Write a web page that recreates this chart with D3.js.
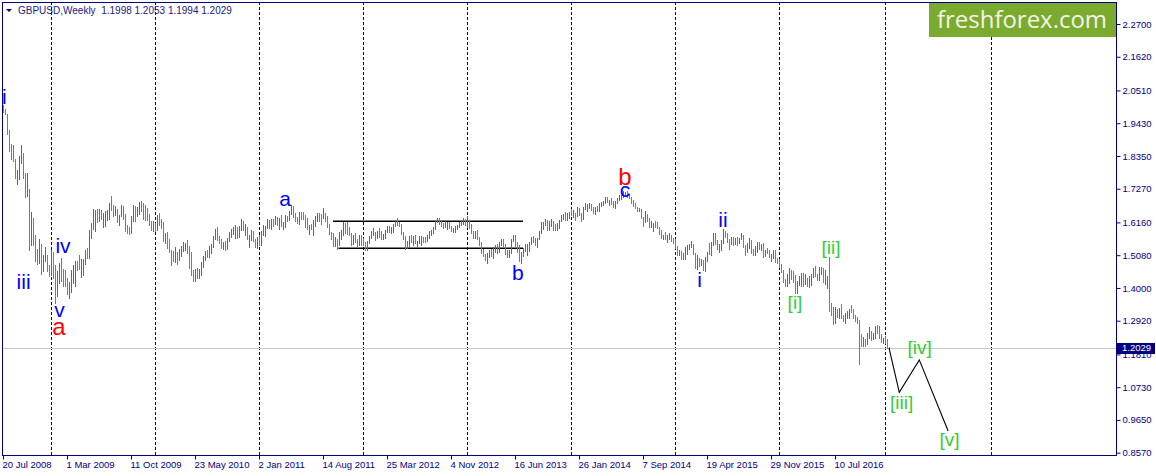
<!DOCTYPE html>
<html>
<head>
<meta charset="utf-8">
<script src="https://cdn.jsdelivr.net/npm/d3@7"></script>
<style>
body { margin: 0; background: #fff; }
svg text { font-family: Tahoma, "Liberation Sans", sans-serif; }
</style>
</head>
<body>
<script>
// weekly GBPUSD bars, first bar = week of 20 Jul 2008
var firstWeek = "2008-07-20";
var firstOpen = 1.995;

var highs = [
  2.003,1.990,1.974,1.922,1.876,1.870,1.825,1.790,1.836,1.870,1.844,1.780,1.780,1.725,1.650,1.630,1.574,1.530,1.560,1.545,1.510,1.535,1.510,1.475,
  1.524,1.519,1.477,1.456,1.483,1.500,1.462,1.460,1.432,1.420,1.460,1.475,1.490,1.488,1.510,1.495,1.495,1.525,1.533,1.591,1.615,1.660,1.658,1.661,1.660,1.658,1.647,1.655,1.656,1.680,1.704,1.672,1.671,1.661,1.640,1.672,1.669,1.644,1.606,1.600,1.636,1.672,1.670,1.667,1.684,1.688,1.681,1.675,1.664,1.645,1.620,1.620,
  1.615,1.642,1.647,1.628,1.618,1.581,1.585,1.563,1.525,1.522,1.535,1.517,1.529,1.537,1.551,1.547,1.559,1.537,1.520,1.460,1.462,1.467,1.464,1.486,1.506,1.523,1.525,1.537,1.546,1.571,1.595,1.600,1.571,1.562,1.553,1.555,1.566,1.584,1.595,1.601,1.607,1.602,1.605,1.628,1.622,1.610,1.602,1.575,1.590,1.587,1.563,1.567,
  1.574,1.588,1.606,1.603,1.626,1.625,1.628,1.628,1.637,1.634,1.629,1.641,1.617,1.640,1.637,1.655,1.675,1.670,1.647,1.634,1.650,1.650,1.650,1.640,1.630,1.609,1.611,1.625,1.636,1.646,1.648,1.643,1.662,1.648,1.637,1.611,1.585,1.581,1.567,1.560,1.584,1.590,1.616,1.613,1.617,1.602,1.582,1.576,1.580,1.563,1.574,1.575,
  1.566,1.550,1.556,1.570,1.588,1.597,1.586,1.587,1.596,1.589,1.579,1.592,1.605,1.604,1.600,1.611,1.625,1.630,1.619,1.612,1.584,1.572,1.554,1.572,1.573,1.571,1.573,1.555,1.572,1.572,1.568,1.569,1.573,1.588,1.590,1.600,1.623,1.631,1.631,1.624,1.615,1.625,1.616,1.617,1.604,1.596,1.603,1.609,1.617,1.620,1.631,1.627,
  1.638,1.625,1.611,1.589,1.588,1.591,1.568,1.553,1.528,1.513,1.515,1.525,1.528,1.535,1.541,1.544,1.552,1.560,1.561,1.544,1.525,1.526,1.563,1.575,1.575,1.550,1.542,1.520,1.533,1.545,1.544,1.553,1.567,1.572,1.565,1.566,1.588,1.616,1.617,1.626,1.623,1.621,1.626,1.620,1.612,1.614,1.625,1.642,1.644,1.650,1.648,1.651,1.660,
  1.656,1.647,1.667,1.662,1.647,1.667,1.681,1.677,1.680,1.678,1.667,1.667,1.671,1.679,1.684,1.685,1.700,1.700,1.691,1.697,1.687,1.686,1.697,1.706,1.707,1.718,1.716,1.719,1.711,1.700,1.690,1.680,1.668,1.665,1.660,1.633,1.653,1.643,1.629,1.620,1.614,1.620,1.618,1.602,1.592,1.575,1.584,1.573,1.581,1.576,1.564,1.561,
  1.537,1.526,1.522,1.515,1.534,1.541,1.545,1.555,1.546,1.515,1.508,1.499,1.495,1.492,1.501,1.519,1.549,1.552,1.582,1.582,1.557,1.545,1.559,1.593,1.588,1.580,1.562,1.567,1.568,1.566,1.568,1.564,1.582,1.574,1.542,1.547,1.566,1.559,1.530,1.537,1.550,1.552,1.546,1.549,1.526,1.533,1.525,1.512,1.526,1.524,1.498,1.494,
  1.479,1.459,1.430,1.446,1.466,1.460,1.456,1.443,1.422,1.439,1.448,1.450,1.446,1.434,1.438,1.445,1.467,1.471,1.446,1.468,1.470,1.465,1.459,1.440,1.502,1.350,1.336,1.337,1.330,1.334,1.348,1.312,1.317,1.323,1.330,1.344,1.331,1.311,1.304,1.294,1.247,1.239,1.233,1.250,1.271,1.259,1.252,1.276,1.278,1.273,1.248,1.236,
  1.243,1.233,1.2053
];
var lows = [
  1.979,1.973,1.909,1.850,1.826,1.818,1.762,1.744,1.760,1.812,1.763,1.700,1.702,1.525,1.540,1.540,1.490,1.478,1.482,1.447,1.457,1.490,1.457,1.439,
  1.443,1.433,1.350,1.373,1.415,1.422,1.405,1.406,1.380,1.366,1.387,1.415,1.405,1.460,1.463,1.437,1.444,1.480,1.500,1.500,1.564,1.594,1.588,1.618,1.620,1.626,1.600,1.605,1.624,1.627,1.656,1.638,1.640,1.617,1.606,1.636,1.626,1.588,1.581,1.577,1.580,1.622,1.621,1.636,1.643,1.652,1.627,1.623,1.624,1.609,1.590,1.587,
  1.587,1.590,1.608,1.599,1.555,1.548,1.532,1.520,1.477,1.490,1.487,1.479,1.491,1.506,1.521,1.524,1.516,1.467,1.442,1.423,1.423,1.432,1.434,1.444,1.470,1.491,1.503,1.502,1.514,1.535,1.563,1.558,1.547,1.532,1.529,1.526,1.530,1.554,1.567,1.578,1.566,1.564,1.567,1.590,1.590,1.575,1.562,1.535,1.559,1.555,1.534,1.532,
  1.543,1.543,1.575,1.570,1.598,1.596,1.595,1.603,1.612,1.607,1.593,1.605,1.594,1.600,1.620,1.624,1.645,1.635,1.622,1.615,1.610,1.627,1.627,1.602,1.595,1.578,1.593,1.575,1.604,1.622,1.622,1.610,1.630,1.622,1.602,1.577,1.561,1.537,1.537,1.527,1.542,1.561,1.575,1.582,1.577,1.575,1.542,1.544,1.550,1.539,1.542,1.540,
  1.542,1.524,1.524,1.549,1.566,1.573,1.559,1.566,1.569,1.560,1.560,1.564,1.583,1.583,1.582,1.585,1.604,1.609,1.605,1.578,1.563,1.527,1.533,1.536,1.550,1.541,1.549,1.535,1.549,1.540,1.550,1.553,1.555,1.565,1.573,1.581,1.593,1.616,1.612,1.605,1.597,1.600,1.594,1.598,1.589,1.583,1.585,1.594,1.600,1.607,1.611,1.607,
  1.601,1.596,1.581,1.565,1.566,1.561,1.543,1.516,1.504,1.491,1.483,1.503,1.506,1.500,1.518,1.516,1.518,1.542,1.537,1.511,1.501,1.503,1.516,1.555,1.534,1.518,1.490,1.481,1.506,1.522,1.508,1.522,1.546,1.550,1.540,1.534,1.561,1.582,1.594,1.608,1.590,1.592,1.605,1.590,1.590,1.590,1.598,1.621,1.628,1.624,1.625,1.629,1.640,
  1.634,1.625,1.637,1.639,1.620,1.626,1.660,1.655,1.663,1.656,1.646,1.643,1.655,1.654,1.671,1.675,1.680,1.683,1.675,1.678,1.667,1.665,1.679,1.690,1.693,1.701,1.703,1.700,1.695,1.681,1.670,1.664,1.654,1.654,1.631,1.605,1.618,1.620,1.602,1.600,1.588,1.600,1.596,1.579,1.566,1.560,1.562,1.553,1.560,1.554,1.548,1.531,
  1.508,1.507,1.496,1.495,1.496,1.512,1.530,1.535,1.512,1.466,1.463,1.473,1.475,1.458,1.457,1.490,1.512,1.507,1.540,1.544,1.528,1.517,1.526,1.548,1.567,1.553,1.527,1.544,1.540,1.545,1.542,1.548,1.560,1.536,1.509,1.519,1.531,1.515,1.510,1.510,1.518,1.527,1.526,1.502,1.505,1.516,1.502,1.490,1.500,1.485,1.483,1.470,
  1.452,1.421,1.405,1.407,1.417,1.429,1.419,1.384,1.384,1.409,1.406,1.407,1.413,1.405,1.403,1.411,1.435,1.441,1.425,1.427,1.446,1.420,1.414,1.401,1.323,1.312,1.280,1.285,1.303,1.300,1.302,1.291,1.284,1.302,1.301,1.320,1.300,1.290,1.284,1.150,1.209,1.210,1.208,1.215,1.234,1.230,1.231,1.235,1.252,1.236,1.222,1.219,
  1.217,1.203,1.1994
];
var closes = [
  1.988,1.976,1.912,1.864,1.859,1.820,1.773,1.780,1.823,1.835,1.770,1.718,1.722,1.552,1.620,1.545,1.500,1.480,1.542,1.462,1.498,1.498,1.470,1.452,
  1.519,1.468,1.376,1.448,1.478,1.438,1.430,1.416,1.392,1.405,1.432,1.437,1.481,1.478,1.465,1.465,1.489,1.516,1.509,1.587,1.615,1.645,1.650,1.633,1.654,1.634,1.640,1.647,1.651,1.670,1.667,1.645,1.654,1.629,1.638,1.662,1.633,1.598,1.593,1.584,1.631,1.652,1.650,1.658,1.678,1.654,1.653,1.635,1.627,1.615,1.600,1.614,
  1.602,1.628,1.612,1.599,1.562,1.572,1.548,1.522,1.500,1.497,1.522,1.492,1.522,1.526,1.534,1.537,1.528,1.483,1.452,1.443,1.452,1.442,1.453,1.481,1.502,1.519,1.507,1.528,1.538,1.570,1.594,1.562,1.553,1.543,1.549,1.545,1.558,1.578,1.587,1.596,1.597,1.573,1.603,1.623,1.594,1.598,1.562,1.566,1.577,1.555,1.544,1.561,
  1.560,1.587,1.600,1.602,1.616,1.603,1.623,1.614,1.623,1.610,1.620,1.608,1.610,1.633,1.630,1.653,1.670,1.640,1.624,1.620,1.648,1.645,1.632,1.622,1.596,1.605,1.595,1.619,1.634,1.641,1.633,1.630,1.648,1.633,1.605,1.583,1.578,1.547,1.558,1.546,1.579,1.590,1.613,1.599,1.591,1.580,1.545,1.571,1.561,1.551,1.568,1.554,
  1.543,1.531,1.553,1.570,1.581,1.584,1.580,1.581,1.576,1.565,1.570,1.589,1.601,1.588,1.589,1.611,1.624,1.618,1.609,1.580,1.566,1.539,1.552,1.570,1.562,1.570,1.550,1.552,1.568,1.570,1.562,1.560,1.570,1.584,1.588,1.598,1.622,1.623,1.616,1.613,1.601,1.611,1.611,1.600,1.590,1.590,1.602,1.603,1.612,1.613,1.625,1.610,
  1.612,1.603,1.585,1.570,1.586,1.565,1.549,1.519,1.505,1.491,1.512,1.523,1.519,1.528,1.535,1.528,1.551,1.555,1.537,1.520,1.509,1.519,1.556,1.568,1.543,1.521,1.498,1.508,1.525,1.538,1.538,1.552,1.564,1.556,1.548,1.563,1.586,1.601,1.616,1.620,1.595,1.617,1.618,1.595,1.592,1.612,1.623,1.637,1.640,1.632,1.635,1.649,1.643,
  1.646,1.640,1.661,1.643,1.630,1.664,1.667,1.673,1.673,1.663,1.648,1.666,1.660,1.675,1.679,1.682,1.689,1.686,1.688,1.683,1.674,1.683,1.697,1.701,1.702,1.710,1.713,1.708,1.698,1.685,1.682,1.670,1.656,1.660,1.632,1.623,1.631,1.624,1.604,1.607,1.609,1.608,1.599,1.586,1.567,1.567,1.564,1.571,1.571,1.566,1.552,1.532,
  1.518,1.518,1.498,1.505,1.527,1.539,1.539,1.543,1.514,1.474,1.497,1.486,1.491,1.464,1.497,1.517,1.515,1.546,1.570,1.548,1.528,1.535,1.558,1.588,1.573,1.560,1.550,1.560,1.552,1.562,1.549,1.563,1.570,1.540,1.525,1.543,1.555,1.519,1.518,1.533,1.546,1.531,1.542,1.505,1.522,1.519,1.504,1.511,1.520,1.491,1.489,1.473,
  1.452,1.426,1.425,1.425,1.451,1.450,1.440,1.393,1.422,1.437,1.446,1.423,1.423,1.412,1.419,1.440,1.461,1.444,1.437,1.450,1.464,1.420,1.425,1.435,1.367,1.330,1.295,1.319,1.311,1.322,1.305,1.293,1.308,1.323,1.329,1.327,1.307,1.298,1.297,1.243,1.218,1.221,1.219,1.249,1.259,1.238,1.247,1.273,1.256,1.243,1.228,1.234,
  1.228,1.213,1.2029
];

var priceTicks = [2.2700, 2.1620, 2.0510, 1.9430, 1.8350, 1.7270, 1.6160, 1.5080, 1.4000, 1.2920, 1.1810, 1.0730, 0.9650, 0.8570];
var dateTicks = ["2008-07-20", "2009-03-01", "2009-10-11", "2010-05-23", "2011-01-02", "2011-08-14", "2012-03-25",
                 "2012-11-04", "2013-06-16", "2014-01-26", "2014-09-07", "2015-04-19", "2015-11-29", "2016-07-10"];
var yearGrid = ["2009-01-04", "2010-01-03", "2011-01-02", "2012-01-01", "2012-12-30", "2013-12-29",
                "2014-12-28", "2015-12-27", "2017-01-01", "2018-01-07"];

var header = "GBPUSD,Weekly  1.1998 1.2053 1.1994 1.2029";
var lastPrice = 1.2029;

// elliott wave marks: text, date, price, degree
var waveLabels = [
  ["i", "2008-07-25", 2.006, "minor"],
  ["iii", "2008-09-30", 1.397, "minor"],
  ["iv", "2009-02-15", 1.515, "minor"],
  ["v", "2009-02-03", 1.304, "minor"],
  ["a", "2009-02-01", 1.245, "major"],
  ["a", "2011-04-03", 1.670, "minor"],
  ["b", "2013-06-26", 1.426, "minor"],
  ["b", "2014-07-06", 1.739, "major"],
  ["c", "2014-07-06", 1.700, "minor"],
  ["i", "2015-03-24", 1.403, "minor"],
  ["ii", "2015-06-14", 1.601, "minor"],
  ["[i]", "2016-02-21", 1.330, "minute"],
  ["[ii]", "2016-06-26", 1.512, "minute"],
  ["[iii]", "2017-02-28", 1.002, "minute"],
  ["[iv]", "2017-05-02", 1.183, "minute"],
  ["[v]", "2017-08-15", 0.880, "minute"]
];

// forecast path from the last close
var forecastDates = ["2017-01-15", "2017-02-20", "2017-05-01", "2017-08-10"];
var forecastPrices = [1.2029, 1.056, 1.163, 0.9285];

// 2011-2013 range box
var channelLines = [
  [["2011-09-18", 1.620], ["2013-07-14", 1.620]],
  [["2011-10-07", 1.531], ["2013-07-14", 1.531]]
];

var upColor = "#2e8b2e", downColor = "#f0501e";
var navy = "#000080";
var degreeColor = { minor: "#0000ff", major: "#ff0000", minute: "#32cd32" };
var degreeSize = { minor: 21, major: 24, minute: 19 };

var parse = d3.utcParse("%Y-%m-%d");
var start = parse(firstWeek);
var dates = d3.utcSunday.range(start, d3.utcSunday.offset(start, highs.length));

var plotL = 3, plotR = 1117, plotT = 2, plotB = 455;

var x = d3.scaleUtc()
    .domain([start, d3.utcSunday.offset(start, (plotR - plotL) / 2)])
    .range([plotL, plotR]);
var y = d3.scaleLinear()
    .domain([0.857, 2.27])
    .range([452.7, 24]);

function px(d) { return Math.round(x(d)) + 0.5; }

var svg = d3.select("body").append("svg")
    .attr("width", 1156)
    .attr("height", 476);

svg.append("rect").attr("width", 1156).attr("height", 476).attr("fill", "#fff");

svg.append("clipPath").attr("id", "plot")
  .append("rect")
    .attr("x", plotL).attr("y", plotT)
    .attr("width", plotR - plotL).attr("height", plotB - plotT);

// year separators
svg.append("g").selectAll("line")
    .data(yearGrid.map(parse))
    .join("line")
    .attr("x1", px).attr("x2", px)
    .attr("y1", plotT).attr("y2", plotB)
    .attr("stroke", navy)
    .attr("stroke-dasharray", "3,2");

// last price line
svg.append("line")
    .attr("x1", plotL).attr("x2", plotR)
    .attr("y1", Math.round(y(lastPrice)) + 0.5).attr("y2", Math.round(y(lastPrice)) + 0.5)
    .attr("stroke", "#c8c8c8");

// range box lines
svg.append("g").selectAll("line")
    .data(channelLines)
    .join("line")
    .attr("x1", d => x(parse(d[0][0]))).attr("y1", d => y(d[0][1]))
    .attr("x2", d => x(parse(d[1][0]))).attr("y2", d => y(d[1][1]))
    .attr("stroke", "#000")
    .attr("stroke-width", 1.6);

// bars
svg.append("g")
    .attr("clip-path", "url(#plot)")
    .attr("shape-rendering", "crispEdges")
  .selectAll("line")
    .data(d3.range(highs.length))
    .join("line")
    .attr("x1", i => px(dates[i])).attr("x2", i => px(dates[i]))
    .attr("y1", i => Math.round(y(highs[i])))
    .attr("y2", i => Math.round(y(lows[i])) + 1)
    .attr("stroke", function(i) {
        var prev = i ? closes[i - 1] : firstOpen;
        return closes[i] >= prev ? upColor : downColor;
    });

// forecast
var line = d3.line()
    .x(d => x(parse(d[0])))
    .y(d => y(d[1]));
svg.append("path")
    .datum(d3.zip(forecastDates, forecastPrices))
    .attr("d", line)
    .attr("fill", "none")
    .attr("stroke", "#000")
    .attr("stroke-width", 1.1);

// wave labels
svg.append("g").selectAll("text")
    .data(waveLabels)
    .join("text")
    .attr("x", d => x(parse(d[1])))
    .attr("y", d => y(d[2]))
    .attr("text-anchor", "middle")
    .style("font-family", "'Liberation Sans', Arial, sans-serif")
    .style("font-size", d => degreeSize[d[3]] + "px")
    .attr("fill", d => degreeColor[d[3]])
    .text(d => d[0]);

// frame
svg.append("rect")
    .attr("x", plotL - 0.5).attr("y", plotT + 0.5)
    .attr("width", plotR - plotL).attr("height", plotB - plotT)
    .attr("fill", "none")
    .attr("stroke", navy);

// price axis
var yAxis = svg.append("g")
    .attr("transform", "translate(" + (plotR - 0.5) + ",0)")
    .call(d3.axisRight(y).tickValues(priceTicks).tickSize(4).tickPadding(2).tickFormat(d3.format(".4f")));
yAxis.select(".domain").remove();
yAxis.selectAll("line").attr("stroke", navy);
yAxis.selectAll("text")
    .attr("fill", navy)
    .style("font-size", "9.5px");

// current price tag
svg.append("rect")
    .attr("x", plotR).attr("y", Math.round(y(lastPrice)) - 5)
    .attr("width", 38).attr("height", 11)
    .attr("fill", navy);
svg.append("text")
    .attr("x", plotR + 5).attr("y", y(lastPrice))
    .attr("dy", "0.35em")
    .attr("fill", "#fff")
    .style("font-size", "9.5px")
    .text(d3.format(".4f")(lastPrice));

// time axis
var fmt = d3.utcFormat("%-d %b %Y");
var xAxis = svg.append("g")
    .attr("transform", "translate(0," + (plotB + 0.5) + ")")
    .call(d3.axisBottom(x).tickValues(dateTicks.map(parse)).tickSize(4).tickPadding(2).tickFormat(fmt));
xAxis.select(".domain").remove();
xAxis.selectAll(".tick").attr("transform", d => "translate(" + px(d) + ",0)");
xAxis.selectAll("line").attr("stroke", navy);
xAxis.selectAll("text")
    .attr("text-anchor", "start")
    .attr("x", -1)
    .attr("fill", navy)
    .style("font-size", "9.5px");

// header
svg.append("path")
    .attr("d", "M6,9L12,9L9,12Z")
    .attr("fill", navy);
svg.append("text")
    .attr("x", 18).attr("y", 13.5)
    .attr("fill", "#202080")
    .style("font-size", "10px")
    .style("white-space", "pre")
    .text(header);

// logo
svg.append("rect")
    .attr("x", 929).attr("y", 3)
    .attr("width", plotR - 929 - 1).attr("height", 34)
    .attr("fill", "#7bab2e");
svg.append("text")
    .attr("x", 937).attr("y", 28)
    .attr("fill", "#f3f3e8")
    .attr("textLength", 170)
    .attr("lengthAdjust", "spacingAndGlyphs")
    .style("font-family", "'Open Sans', sans-serif")
    .style("font-size", "24px")
    .text("freshforex.com");
</script>
</body>
</html>
